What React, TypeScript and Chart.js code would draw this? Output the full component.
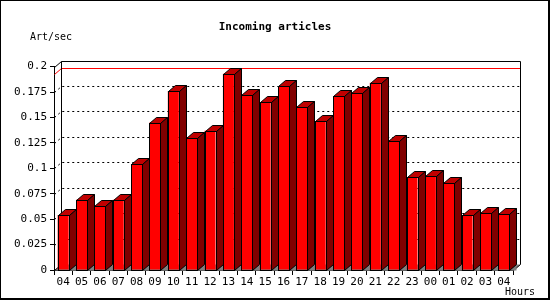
import React, { useEffect, useRef } from "react";
import { Chart, registerables } from "chart.js";

Chart.register(...registerables);

const hours = ["04","05","06","07","08","09","10","11","12","13","14","15","16","17","18","19","20","21","22","23","00","01","02","03","04"];
const rates = [0.054,0.069,0.063,0.069,0.104,0.145,0.176,0.1295,0.137,0.193,0.172,0.165,0.181,0.160,0.1465,0.171,0.174,0.184,0.127,0.091,0.092,0.086,0.054,0.056,0.055];
const yTicks = { min: 0, max: 0.2, step: 0.025 };
const titleText = "Incoming articles";
const yTitle = "Art/sec";
const xTitle = "Hours";

const DX = 7;
const DY = 6;
const MONO = "'DejaVu Sans Mono', 'Liberation Mono', monospace";

const r = (v: number) => Math.round(v) + 0.5;

const plot3d = {
  id: "plot3d",
  beforeDatasetsDraw(chart: any) {
    const { ctx, chartArea: a, scales } = chart;
    const y = scales.y;
    const L = r(a.left), R = r(a.right), T = r(a.top), B = r(a.bottom);
    ctx.save();
    ctx.lineWidth = 1;
    // floor
    ctx.fillStyle = "#808080";
    ctx.beginPath();
    ctx.moveTo(L, B); ctx.lineTo(R, B); ctx.lineTo(R + DX, B - DY); ctx.lineTo(L + DX, B - DY);
    ctx.closePath();
    ctx.fill();
    // gridlines on back plane
    ctx.strokeStyle = "#000";
    ctx.setLineDash([2, 3]);
    for (let v = yTicks.step; v < yTicks.max - 1e-9; v += yTicks.step) {
      const py = r(y.getPixelForValue(v));
      ctx.beginPath();
      ctx.moveTo(L, py); ctx.lineTo(L + DX, py - DY); ctx.lineTo(R + DX, py - DY);
      ctx.stroke();
    }
    ctx.setLineDash([]);
    // max line
    const maxV = Math.max(...rates);
    const pm = r(y.getPixelForValue(maxV));
    ctx.strokeStyle = "#ff0000";
    ctx.beginPath();
    ctx.moveTo(L, pm); ctx.lineTo(L + DX, pm - DY); ctx.lineTo(R + DX, pm - DY);
    ctx.stroke();
    // back frame
    ctx.strokeStyle = "#000";
    ctx.beginPath();
    ctx.moveTo(L + DX, B - DY); ctx.lineTo(L + DX, T - DY); ctx.lineTo(R + DX, T - DY); ctx.lineTo(R + DX, B - DY); ctx.lineTo(R, B);
    ctx.moveTo(L, T); ctx.lineTo(L + DX, T - DY);
    ctx.moveTo(L, B); ctx.lineTo(L + DX, B - DY);
    ctx.stroke();
    ctx.restore();
  },
  afterDatasetsDraw(chart: any) {
    const { ctx } = chart;
    const meta = chart.getDatasetMeta(0);
    ctx.save();
    ctx.lineWidth = 1;
    ctx.strokeStyle = "#000";
    meta.data.forEach((bar: any) => {
      const p = bar.getProps(["x", "y", "base", "width"], true);
      const left = r(p.x - p.width / 2);
      const right = r(p.x + p.width / 2);
      const top = r(p.y);
      const base = r(p.base);
      // floor shadow under side
      ctx.fillStyle = "#808080";
      ctx.beginPath();
      ctx.moveTo(right, base); ctx.lineTo(right + DX, base - DY); ctx.lineTo(right + DX, base);
      ctx.closePath();
      ctx.fill();
      // top face
      ctx.fillStyle = "#c00000";
      ctx.beginPath();
      ctx.moveTo(left, top); ctx.lineTo(left + DX, top - DY); ctx.lineTo(right + DX, top - DY); ctx.lineTo(right, top);
      ctx.closePath();
      ctx.fill(); ctx.stroke();
      // side face
      ctx.fillStyle = "#800000";
      ctx.beginPath();
      ctx.moveTo(right, top); ctx.lineTo(right + DX, top - DY); ctx.lineTo(right + DX, base - DY); ctx.lineTo(right, base);
      ctx.closePath();
      ctx.fill(); ctx.stroke();
      // front outline
      ctx.strokeRect(left, top, right - left, base - top);
    });
    ctx.restore();
  },
  afterDraw(chart: any) {
    const { ctx, width, height } = chart;
    ctx.save();
    ctx.fillStyle = "#000";
    ctx.textBaseline = "middle";
    ctx.font = `bold 11px ${MONO}`;
    ctx.textAlign = "center";
    ctx.fillText(titleText, 275, 27);
    ctx.font = `10px ${MONO}`;
    ctx.textAlign = "left";
    ctx.fillText(yTitle, 30, 37);
    ctx.textAlign = "right";
    ctx.fillText(xTitle, 535, 292);
    // outer frame
    ctx.fillRect(0, 0, width, 1);
    ctx.fillRect(0, 0, 1, height);
    ctx.fillRect(width - 2, 0, 2, height);
    ctx.fillRect(0, height - 2, width, 2);
    ctx.restore();
  },
};

export default function App() {
  const ref = useRef<HTMLCanvasElement>(null);
  useEffect(() => {
    if (!ref.current) return;
    const chart = new Chart(ref.current, {
      type: "bar",
      data: {
        labels: hours,
        datasets: [
          {
            data: rates,
            backgroundColor: "#ff0000",
            borderColor: "#000",
            borderWidth: 0,
            borderSkipped: false,
            categoryPercentage: 1,
            barPercentage: 0.6,
          },
        ],
      },
      options: {
        animation: false,
        responsive: false,
        devicePixelRatio: 1,
        layout: { padding: { top: 66.6, right: 37, left: 0, bottom: 0 } },
        plugins: { legend: { display: false }, tooltip: { enabled: false }, title: { display: false } },
        scales: {
          x: {
            afterFit: (s: any) => { s.height = 30; },
            grid: { display: true, offset: true, drawOnChartArea: false, tickLength: 5, color: "#000" },
            border: { display: true, color: "#000" },
            ticks: { color: "#000", font: { family: MONO, size: 11 }, padding: 1, maxRotation: 0, autoSkip: false },
          },
          y: {
            min: yTicks.min,
            max: yTicks.max,
            afterFit: (s: any) => { s.width = 54; },
            grid: { display: true, drawOnChartArea: false, tickLength: 4, color: "#000" },
            border: { display: true, color: "#000" },
            ticks: {
              stepSize: yTicks.step,
              color: "#000",
              font: { family: MONO, size: 11 },
              padding: 3,
              callback: (v: any) => parseFloat(Number(v).toFixed(3)).toString(),
            },
          },
        },
      },
      plugins: [plot3d],
    });
    return () => chart.destroy();
  }, []);
  return (
    <div style={{ position: "fixed", left: 0, top: 0, width: 550, height: 300, background: "#fff" }}>
      <canvas ref={ref} width={550} height={300} style={{ width: 550, height: 300, display: "block" }} />
    </div>
  );
}
